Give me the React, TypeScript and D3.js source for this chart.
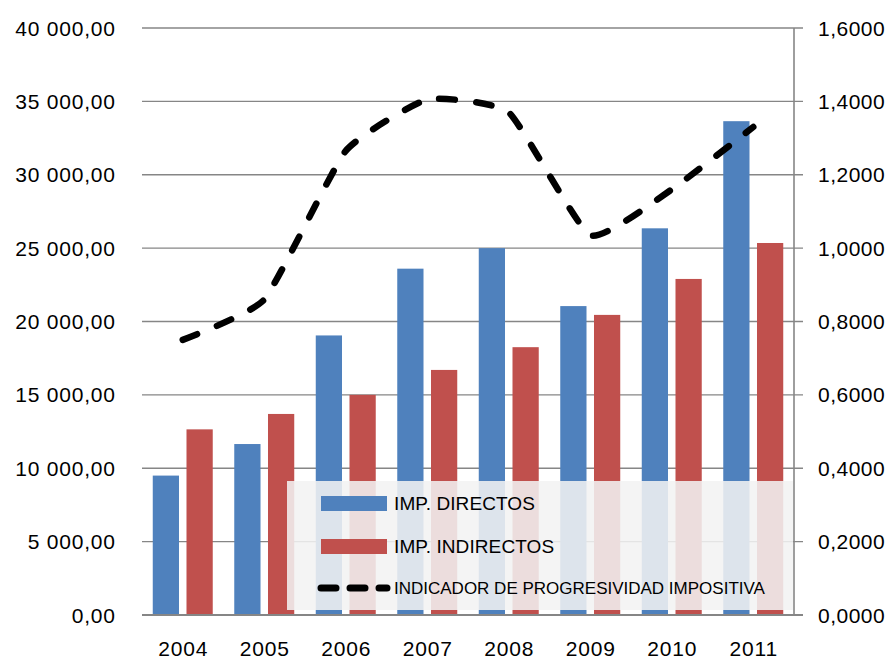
import React, { useEffect, useRef } from 'react';
import * as d3 from 'd3';

const years = ['2004', '2005', '2006', '2007', '2008', '2009', '2010', '2011'];
const directos = [9500, 11650, 19050, 23600, 25000, 21050, 26350, 33650];
const indirectos = [12650, 13700, 15000, 16700, 18250, 20450, 22900, 25350];
const indicador = [0.75, 0.86, 1.265, 1.405, 1.37, 1.035, 1.16, 1.33];
const leftTicks = [0, 5000, 10000, 15000, 20000, 25000, 30000, 35000, 40000];
const rightTicks = [0, 0.2, 0.4, 0.6, 0.8, 1.0, 1.2, 1.4, 1.6];
const legendLabels = ['IMP. DIRECTOS', 'IMP. INDIRECTOS', 'INDICADOR DE PROGRESIVIDAD IMPOSITIVA'];

const FONT = '"Liberation Sans", Arial, sans-serif';

const fmtLeft = (v: number) => {
    const s = d3.format(',.2f')(v);
    return s.replace(/,/g, ' ').replace('.', ',');
};
const fmtRight = (v: number) => d3.format('.4f')(v).replace('.', ',');

const App = () => {
    const svgRef = useRef<SVGSVGElement>(null);

    useEffect(() => {
        const width = 894;
        const height = 659;
        const left = 142, right = 794, top = 28, bottom = 615;

        const svg = d3.select(svgRef.current);
        svg.selectAll('*').remove();
        svg.attr('width', width).attr('height', height);

        const x0 = d3.scaleBand().domain(years).range([left, right]).paddingInner(0.264).paddingOuter(0.132);
        const x1 = d3.scaleBand().domain(['d', 'i']).range([0, x0.bandwidth()]).paddingInner(0.222);
        const yL = d3.scaleLinear().domain([0, 40000]).range([bottom, top]);
        const yR = d3.scaleLinear().domain([0, 1.6]).range([bottom, top]);

        // gridlines
        svg.append('g')
            .selectAll('line')
            .data(leftTicks.slice(1))
            .enter()
            .append('line')
            .attr('x1', left).attr('x2', right + 9)
            .attr('y1', d => yL(d)).attr('y2', d => yL(d))
            .attr('stroke', '#868686').attr('stroke-width', 1.4);

        // bars
        const groups = svg.append('g')
            .selectAll('g')
            .data(years)
            .enter()
            .append('g')
            .attr('transform', d => `translate(${x0(d)},0)`);
        groups.append('rect')
            .attr('x', x1('d')!)
            .attr('width', x1.bandwidth())
            .attr('y', (d, i) => yL(directos[i]))
            .attr('height', (d, i) => bottom - yL(directos[i]))
            .attr('fill', '#4f81bd');
        groups.append('rect')
            .attr('x', x1('i')!)
            .attr('width', x1.bandwidth())
            .attr('y', (d, i) => yL(indirectos[i]))
            .attr('height', (d, i) => bottom - yL(indirectos[i]))
            .attr('fill', '#c0504d');

        // axes lines
        svg.append('line')
            .attr('x1', left).attr('x2', right + 9)
            .attr('y1', bottom).attr('y2', bottom)
            .attr('stroke', '#868686').attr('stroke-width', 2);
        svg.append('line')
            .attr('x1', right).attr('x2', right)
            .attr('y1', top).attr('y2', bottom)
            .attr('stroke', '#868686').attr('stroke-width', 1.6);

        // line
        const line = d3.line<number>()
            .x((d, i) => x0(years[i])! + x0.bandwidth() / 2)
            .y(d => yR(d))
            .curve(d3.curveCardinal.tension(0.55));
        svg.append('path')
            .datum(indicador)
            .attr('d', line)
            .attr('fill', 'none')
            .attr('stroke', '#000')
            .attr('stroke-width', 6.5)
            .attr('stroke-linecap', 'round')
            .attr('stroke-dasharray', '15.5,21.5');

        // tick labels
        svg.append('g')
            .selectAll('text')
            .data(leftTicks)
            .enter()
            .append('text')
            .attr('x', 115 + 0.8)
            .attr('y', d => yL(d) + 7.5)
            .attr('text-anchor', 'end')
            .attr('font-family', FONT)
            .attr('font-size', 21)
            .attr('letter-spacing', 0.8)
            .attr('fill', '#000')
            .text(d => fmtLeft(d));
        svg.append('g')
            .selectAll('text')
            .data(rightTicks)
            .enter()
            .append('text')
            .attr('x', 818)
            .attr('y', d => yR(d) + 7.5)
            .attr('font-family', FONT)
            .attr('font-size', 21)
            .attr('letter-spacing', 0.5)
            .attr('fill', '#000')
            .text(d => fmtRight(d));
        svg.append('g')
            .selectAll('text')
            .data(years)
            .enter()
            .append('text')
            .attr('x', d => x0(d)! + x0.bandwidth() / 2 + 0.5)
            .attr('y', 656)
            .attr('text-anchor', 'middle')
            .attr('font-family', FONT)
            .attr('font-size', 21)
            .attr('letter-spacing', 0.8)
            .attr('fill', '#000')
            .text(d => d);

        // legend
        const lg = svg.append('g');
        lg.append('rect')
            .attr('x', 287).attr('y', 481)
            .attr('width', 506).attr('height', 129)
            .attr('fill', '#f2f2f2').attr('fill-opacity', 0.87);
        lg.append('rect').attr('x', 321).attr('y', 496).attr('width', 66).attr('height', 15).attr('fill', '#4f81bd');
        lg.append('rect').attr('x', 321).attr('y', 539).attr('width', 66).attr('height', 15).attr('fill', '#c0504d');
        lg.append('line')
            .attr('x1', 321).attr('x2', 387).attr('y1', 588).attr('y2', 588)
            .attr('stroke', '#000').attr('stroke-width', 7)
            .attr('stroke-linecap', 'round').attr('stroke-dasharray', '15,14');
        const ys = [503, 546, 588];
        legendLabels.forEach((t, i) => {
            lg.append('text')
                .attr('x', 394)
                .attr('y', ys[i] + (i < 2 ? 7 : 6))
                .attr('font-family', FONT)
                .attr('font-size', i < 2 ? 19 : 17)
                .attr('letter-spacing', i < 2 ? 0.1 : 0)
                .attr('fill', '#000')
                .text(t);
        });
    }, []);

    return (
        <div style={{ position: 'absolute', left: 0, top: 0 }}>
            <svg ref={svgRef} style={{ display: 'block' }}></svg>
        </div>
    );
};

export default App;
